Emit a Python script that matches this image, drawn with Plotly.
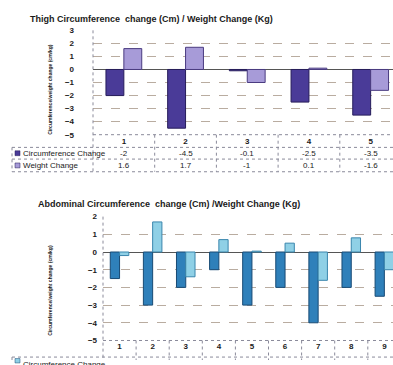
import plotly.graph_objects as go

W, H = 393, 365

# ---- data ----
thigh_categories = ["1", "2", "3", "4", "5"]
thigh_circ = [-2, -4.5, -0.1, -2.5, -3.5]
thigh_weight = [1.6, 1.7, -1, 0.1, -1.6]

abd_categories = ["1", "2", "3", "4", "5", "6", "7", "8", "9"]
abd_circ = [-1.5, -3, -2, -1, -3, -2, -4, -2, -2.5]
abd_weight = [-0.2, 1.7, -1.4, 0.7, 0.05, 0.5, -1.6, 0.8, -1.0]

series_names = ["Circumference Change", "Weight Change"]
title_top = "Thigh Circumference  change (Cm) / Weight Change (Kg)"
title_bot = "Abdominal Circumference  change (Cm) /Weight Change (Kg)"
ytitle = "Circumference/weight change (cm/kg)"

FONT = "Liberation Sans"
TXT = "#1a1a1a"
GRID = "#b9aca0"

def py(p):
    return 1 - p / H

def px(p):
    return p / W

fig = go.Figure()

top_cols = ("#4a3b98", "#a79bd8")
top_line = ("#261c5a", "#4a3b80")
bot_cols = ("#2f80ba", "#8fd0e6")
bot_line = ("#184a74", "#3a86ad")

fig.add_trace(go.Bar(x=thigh_categories, y=thigh_circ, name=series_names[0],
                     marker=dict(color=top_cols[0], line=dict(color=top_line[0], width=1)),
                     xaxis="x", yaxis="y", showlegend=False))
fig.add_trace(go.Bar(x=thigh_categories, y=thigh_weight, name=series_names[1],
                     marker=dict(color=top_cols[1], line=dict(color=top_line[1], width=1)),
                     xaxis="x", yaxis="y", showlegend=False))
fig.add_trace(go.Bar(x=abd_categories, y=abd_circ, name=series_names[0],
                     marker=dict(color=bot_cols[0], line=dict(color=bot_line[0], width=1)),
                     xaxis="x2", yaxis="y2", showlegend=False, width=0.28, offset=-0.28))
fig.add_trace(go.Bar(x=abd_categories, y=abd_weight, name=series_names[1],
                     marker=dict(color=bot_cols[1], line=dict(color=bot_line[1], width=1)),
                     xaxis="x2", yaxis="y2", showlegend=False, width=0.28, offset=0.0))

# top plot: x 93..393, y 27..134 ; bottom plot: x 103..393, y 218..345
top_x0, top_y0, top_y1 = 93, 27, 134
bot_x0, bot_y0, bot_y1 = 103, 218, 345
top_catw = 61.7
bot_catw = 33.1
top_xmax = (W - top_x0) / top_catw - 0.5
bot_xmax = (W - bot_x0) / bot_catw - 0.5

tickfont = dict(family=FONT, size=8, color=TXT, weight="bold")
fig.update_layout(
    width=W, height=H,
    margin=dict(l=0, r=0, t=0, b=0),
    paper_bgcolor="white", plot_bgcolor="white",
    barmode="group", bargap=0.42, bargroupgap=0,
    font=dict(family=FONT, size=8, color=TXT),
    xaxis=dict(domain=[px(top_x0), 1], anchor="y", type="category",
               range=[-0.5, top_xmax], showgrid=False, zeroline=False,
               showticklabels=True, tickfont=tickfont,
               ticks="", showline=False),
    yaxis=dict(domain=[py(top_y1), py(top_y0)], anchor="x", range=[-5, 3], dtick=1,
               showgrid=True, gridcolor=GRID, griddash="dash", gridwidth=1,
               zeroline=True, zerolinecolor="#555555", zerolinewidth=1,
               tickfont=tickfont, ticklabelstandoff=18, showline=False, ticks=""),
    xaxis2=dict(domain=[px(bot_x0), 1], anchor="y2", type="category",
                range=[-0.5, bot_xmax], showgrid=False, zeroline=False,
                showticklabels=True, tickfont=tickfont,
                ticks="", showline=False),
    yaxis2=dict(domain=[py(bot_y1), py(bot_y0)], anchor="x2", range=[-5, 2], dtick=1,
                showgrid=True, gridcolor=GRID, griddash="dash", gridwidth=1,
                zeroline=True, zerolinecolor="#555555", zerolinewidth=1,
                tickfont=tickfont, ticklabelstandoff=5, showline=False, ticks=""),
)

shapes = []
ann = []
LC = "#8a8a9a"

def hline(x0, x1, y, xref="paper"):
    shapes.append(dict(type="line", xref=xref, yref="paper", x0=x0, x1=x1,
                       y0=py(y), y1=py(y), line=dict(color=LC, width=1, dash="dot")))

def vline(x, y0, y1, xref="paper"):
    shapes.append(dict(type="line", xref=xref, yref="paper", x0=x, x1=x,
                       y0=py(y0), y1=py(y1), line=dict(color=LC, width=1, dash="dot")))

# ---- top table ----
vline(px(top_x0), top_y0, 172)
for y in (147, 159, 172):
    hline(px(12), 1, y)
hline(px(top_x0), 1, top_y1)
vline(px(12), 147, 172)
for k in range(len(thigh_categories) - 1):
    vline(k + 0.5, top_y1, 172, xref="x")

rows_top = [(153, thigh_circ, top_cols[0]), (165.5, thigh_weight, top_cols[1])]
for (yc, vals, col), name in zip(rows_top, series_names):
    shapes.append(dict(type="rect", xref="paper", yref="paper",
                       x0=px(15), x1=px(20), y0=py(yc + 2.5), y1=py(yc - 2.5),
                       fillcolor=col, line=dict(color=top_line[0], width=0.5)))
    ann.append(dict(x=px(21), y=py(yc), xref="paper", yref="paper", text=name,
                    showarrow=False, xanchor="left", yanchor="middle",
                    font=dict(family=FONT, size=8, color=TXT)))
    for i, v in enumerate(vals):
        ann.append(dict(x=i, y=py(yc), xref="x", yref="paper", text=f"{v:g}",
                        showarrow=False, xanchor="center", yanchor="middle",
                        font=dict(family=FONT, size=8, color=TXT)))

# ---- bottom table ----
vline(px(bot_x0), bot_y0, 365)
hline(px(bot_x0), 1, bot_y1)
hline(px(12), 1, 362)
vline(px(12), 362, 365)
for k in range(len(abd_categories) - 1):
    vline(k + 0.5, bot_y1, 365, xref="x2")
shapes.append(dict(type="rect", xref="paper", yref="paper",
                   x0=px(15), x1=px(20), y0=py(368), y1=py(363.5),
                   fillcolor=bot_cols[1], line=dict(color=bot_line[0], width=0.5)))
ann.append(dict(x=px(21), y=py(362.5), xref="paper", yref="paper", text=series_names[0],
                showarrow=False, xanchor="left", yanchor="top",
                font=dict(family=FONT, size=8, color=TXT)))

# ---- titles ----
ann.append(dict(x=px(28), y=py(15), xref="paper", yref="paper", text=f"<b>{title_top}</b>",
                showarrow=False, xanchor="left", yanchor="middle",
                font=dict(family=FONT, size=9, color=TXT)))
ann.append(dict(x=px(36), y=py(205), xref="paper", yref="paper", text=f"<b>{title_bot}</b>",
                showarrow=False, xanchor="left", yanchor="middle",
                font=dict(family=FONT, size=9, color=TXT)))
ann.append(dict(x=px(50), y=py(88), xref="paper", yref="paper", text=f"<b>{ytitle}</b>",
                showarrow=False, textangle=-90, xanchor="center", yanchor="middle",
                font=dict(family=FONT, size=5, color=TXT)))
ann.append(dict(x=px(50), y=py(294), xref="paper", yref="paper", text=f"<b>{ytitle}</b>",
                showarrow=False, textangle=-90, xanchor="center", yanchor="middle",
                font=dict(family=FONT, size=5, color=TXT)))

fig.update_layout(shapes=shapes, annotations=ann)
fig.write_html("out.html")
